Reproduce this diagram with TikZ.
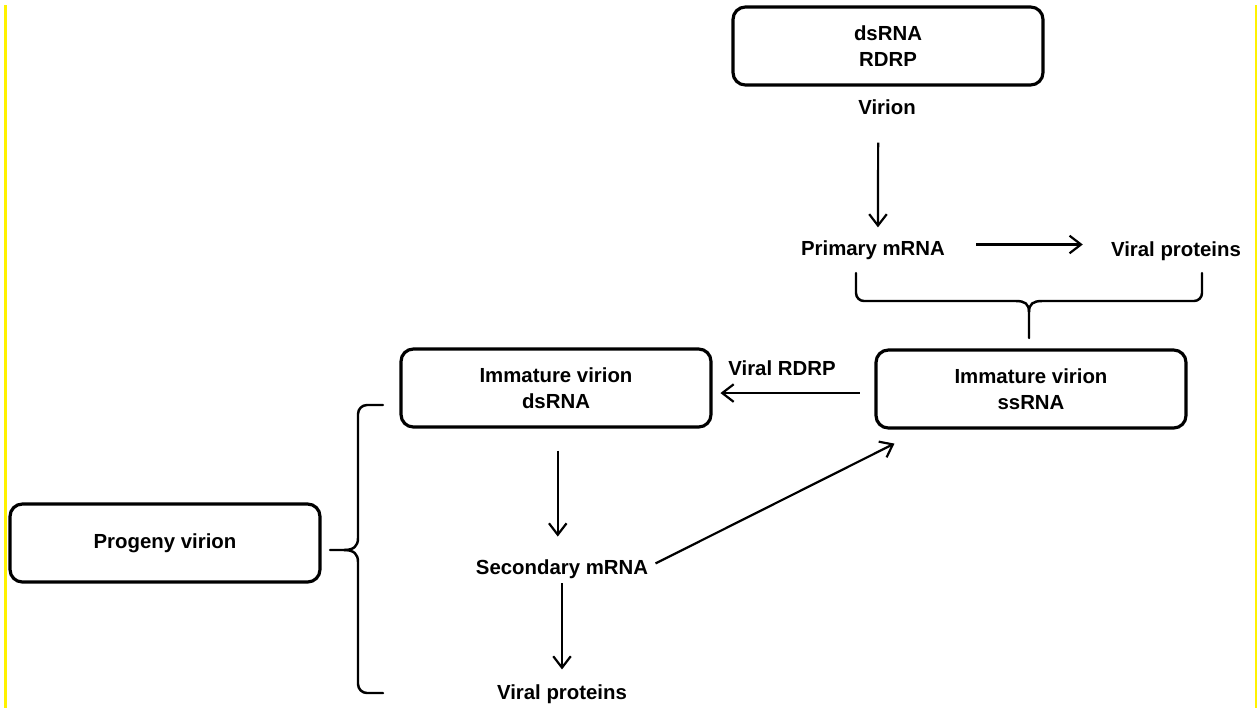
\documentclass[tikz,border=0pt]{standalone}
\usepackage{fontspec}
\setmainfont{Liberation Sans}
\usepackage{tikz}
\usetikzlibrary{arrows.meta}
\tikzset{
  stagebox/.style={draw,line width=1.8pt,rounded corners=7pt,minimum width=6.2cm,minimum height=1.56cm,align=center,inner sep=0pt,font=\bfseries\fontsize{11.6}{15}\selectfont},
  stagelabel/.style={inner sep=0pt,text height=8.3pt,text depth=0pt,font=\bfseries\fontsize{11.6}{15}\selectfont},
  steparrow/.style={line width=1.25pt,-{Straight Barb[length=6.5pt,width=10pt]}},
  bracket/.style={line width=1.4pt,line cap=round}
}

\begin{document}
\begin{tikzpicture}[x=0.02cm,y=-0.02cm]
  \useasboundingbox (0,0) rectangle (1257,708);
  \fill[yellow] (3.5,5) rectangle (7.3,708);
  \fill[yellow] (1255.3,5) rectangle (1256.8,708);
  \node[stagebox] (virion) at (888,46) {dsRNA\\RDRP};
  \node[stagelabel] (virionlabel) at (887,107) {Virion};
  \node[stagelabel] (primary) at (873,248) {Primary mRNA};
  \node[stagelabel] (proteinsA) at (1176,249) {Viral proteins};
  \node[stagebox] (immds) at (556,388) {Immature virion\\dsRNA};
  \node[stagebox] (immss) at (1031,389) {Immature virion\\ssRNA};
  \node[stagelabel] (rdrp) at (782,368) {Viral RDRP};
  \node[stagelabel] (secondary) at (562,567) {Secondary mRNA};
  \node[stagelabel] (proteinsB) at (562,692) {Viral proteins};
  \node[stagebox] (progeny) at (165,543) {Progeny virion};
  \draw[steparrow,shorten <=15.9pt,shorten >=7.4pt] ([xshift=-5pt]virionlabel.south) -- ([xshift=2.8pt]primary.north);
  \draw[steparrow,shorten <=17.6pt,shorten >=15.9pt] ([yshift=2pt]primary.east) -- ([yshift=2pt]primary.east -| proteinsA.west);
  \draw[steparrow,shorten <=8.5pt,shorten >=4.5pt] ([yshift=-2.3pt]immss.west) -- ([yshift=-2.3pt]immss.west -| immds.east);
  \draw[steparrow,shorten <=12.5pt,shorten >=13pt] ([xshift=1pt]immds.south) -- ([xshift=1pt]immds.south |- secondary.north);
  \draw[steparrow,shorten <=5pt,shorten >=8.5pt] (secondary.south) -- (proteinsB.north);
  \draw[steparrow,shorten <=4.5pt] (secondary.east) -- ([shift={(20,14)}]immss.south west);
  % brace under the primary products
  \draw[bracket] (856,273) -- (856,293) to[out=-90,in=180] (864,301) -- (1016,301) .. controls (1025,301) and (1029,304) .. (1029,312) -- (1029,338);
  \draw[bracket] (1029,312) .. controls (1029,304) and (1033,301) .. (1042,301) -- (1194,301) to[out=0,in=-90] (1202,293) -- (1202,273);
  % brace towards the progeny
  \draw[bracket] (383,405) -- (367,405) to[out=180,in=90] (358,414) -- (358,538) .. controls (358,546) and (354,550) .. (344,550) -- (330,550);
  \draw[bracket] (344,550) .. controls (354,550) and (358,554) .. (358,562) -- (358,684) to[out=-90,in=180] (367,693) -- (383,693);
\end{tikzpicture}
\end{document}
